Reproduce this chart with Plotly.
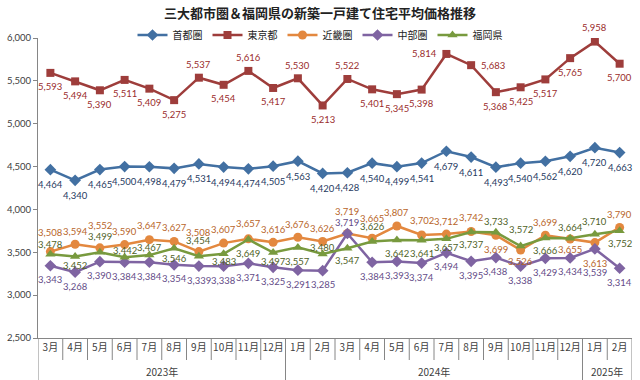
import plotly.graph_objects as go

# ---------------- data ----------------
years = ["2023年", "2024年", "2025年"]
months_by_year = [
    ["3月", "4月", "5月", "6月", "7月", "8月", "9月", "10月", "11月", "12月"],
    ["1月", "2月", "3月", "4月", "5月", "6月", "7月", "8月", "9月", "10月", "11月", "12月"],
    ["1月", "2月"],
]
months = [m for ms in months_by_year for m in ms]

shutoken = [4464, 4340, 4465, 4500, 4498, 4479, 4531, 4494, 4474, 4505, 4563, 4420,
            4428, 4540, 4499, 4541, 4679, 4611, 4493, 4540, 4562, 4620, 4720, 4663]
tokyo = [5593, 5494, 5390, 5511, 5409, 5275, 5537, 5454, 5616, 5417, 5530, 5213,
         5522, 5401, 5345, 5398, 5814, 5683, 5368, 5425, 5517, 5765, 5958, 5700]
kinki = [3508, 3594, 3552, 3590, 3647, 3627, 3508, 3607, 3657, 3616, 3676, 3626,
         3719, 3665, 3807, 3702, 3712, 3742, 3699, 3526, 3699, 3655, 3613, 3790]
chubu = [3343, 3268, 3390, 3384, 3384, 3354, 3339, 3338, 3371, 3325, 3291, 3285,
         3719, 3384, 3393, 3374, 3494, 3395, 3438, 3338, 3429, 3434, 3539, 3314]
fukuoka = [3478, 3452, 3499, 3442, 3467, 3546, 3454, 3483, 3649, 3497, 3557, 3480,
           3547, 3626, 3642, 3641, 3657, 3737, 3733, 3572, 3666, 3664, 3710, 3752]

y_ticks = [2500, 3000, 3500, 4000, 4500, 5000, 5500, 6000]
title = "三大都市圏＆福岡県の新築一戸建て住宅平均価格推移"

# ---------------- styles ----------------
n = len(months)
xs = list(range(n))

# label offsets (pixels) per point
shuto_dy = [-15] * n
tokyo_dy = [-14, -14, -14, -14, -14, -14, 13, -14, 13, -14, 13, -14,
            13, -14, -14, -14, 0, 0, -14, -14, -14, -14, 14, -14]
tokyo_dx = [0] * 16 + [-22, 22] + [0] * 6
kinki_dy = [19, 13, 22, 13, 14, 14, 19, 14, 15, 13, 13, 13,
            22, 20, 13, 14, 13, 14, -14, -11, 13, -10, -21, 13]
chubu_dy = [-14] * 12 + [11] + [-14] * 9 + [-24, -14]
fukuoka_dy = [10, -9, 16, 7, 8, -10, 16, -8, -14, -9, -14, 7,
              -12, 15, -13, -13, -9, -13, 11, 17, -12, 11, 13, -13]

series = [
    ("首都圏", shutoken, "#4270A2", "#1F3A5F", "diamond", 9, [0] * n, shuto_dy),
    ("東京都", tokyo, "#9E3D3B", "#9A2C2C", "square", 8, tokyo_dx, tokyo_dy),
    ("近畿圏", kinki, "#E3883F", "#B8652A", "circle", 9, [0] * n, kinki_dy),
    ("中部圏", chubu, "#7F64A2", "#644C88", "diamond", 9, [0] * n, chubu_dy),
    ("福岡県", fukuoka, "#789A3E", "#4F6228", "triangle-up", 9, [0] * n, fukuoka_dy),
]

JP = "'Noto Sans CJK JP', sans-serif"
NUM = "Lato, 'Noto Sans CJK JP', sans-serif"
AXIS = "#868686"

fig = go.Figure()
annotations = []
for name, vals, col, tcol, sym, size, dxs, dys in series:
    fig.add_trace(go.Scatter(
        x=xs, y=vals, name=name, mode="lines+markers",
        line=dict(color=col, width=2.5),
        marker=dict(symbol=sym, size=size, color=col),
        hovertemplate="%{y:,}<extra>" + name + "</extra>",
    ))
    for i, v in enumerate(vals):
        annotations.append(dict(
            x=i, y=v, xref="x", yref="y", text=f"{v:,}", showarrow=False,
            xshift=dxs[i], yshift=dys[i], xanchor="center", yanchor="middle",
            font=dict(family=NUM, size=9.5, color=tcol),
        ))

# category box lines under the axis
plot_h = 300.0
shapes = []
boundaries_year = [0]
for ms in months_by_year:
    boundaries_year.append(boundaries_year[-1] + len(ms))
for b in range(n + 1):
    is_year = b in boundaries_year
    shapes.append(dict(
        type="line", xref="x", yref="paper",
        x0=b - 0.5, x1=b - 0.5, y0=0, y1=-(42 if is_year else 22) / plot_h,
        line=dict(color=AXIS, width=1),
    ))
for k, yname in enumerate(years):
    center = (boundaries_year[k] + boundaries_year[k + 1] - 1) / 2
    annotations.append(dict(
        x=center, y=-33 / plot_h, xref="x", yref="paper", text=yname,
        showarrow=False, xanchor="center", yanchor="middle",
        font=dict(family=JP, size=10, color="#404040"),
    ))

fig.update_layout(
    width=640, height=380,
    margin=dict(l=38, r=8, t=38, b=42, autoexpand=False),
    paper_bgcolor="white", plot_bgcolor="white",
    title=dict(text="<b>" + title + "</b>", x=0.5, xanchor="center",
               y=1 - 13 / 380, yanchor="middle",
               font=dict(family=JP, size=13, color="#222222")),
    legend=dict(orientation="h", xref="container", yref="container",
                x=0.5, xanchor="center", y=1 - 35 / 380, yanchor="middle",
                font=dict(family=JP, size=10, color="#222222"),
                itemwidth=30, bgcolor="rgba(0,0,0,0)"),
    xaxis=dict(range=[-0.5, n - 0.5], tickvals=xs, ticktext=months,
               showgrid=False, zeroline=False, showline=True, linecolor=AXIS,
               ticks="", tickangle=0, automargin=False,
               tickfont=dict(family=JP, size=10, color="#404040")),
    yaxis=dict(range=[2500, 6000], tickvals=y_ticks, tickformat=",d",
               showgrid=False, zeroline=False, showline=True, linecolor=AXIS,
               ticks="outside", ticklen=4, tickcolor=AXIS, automargin=False,
               tickfont=dict(family=NUM, size=9.5, color="#404040")),
    annotations=annotations,
    shapes=shapes,
    showlegend=True,
)

fig.write_html("out.html",
               config={"displayModeBar": False},
               post_script="document.body.style.margin='0';"
                           "document.body.style.overflow='hidden';")
